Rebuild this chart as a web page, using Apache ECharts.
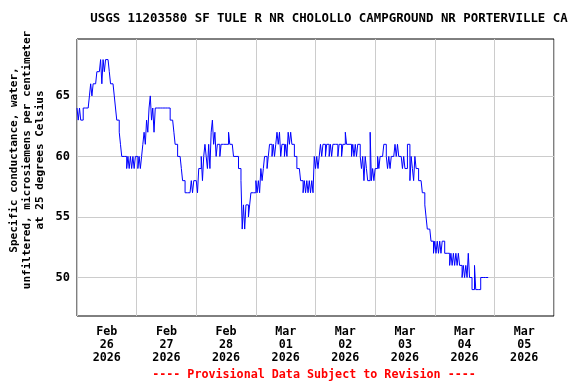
<!DOCTYPE html>
<html>
<head>
<meta charset="utf-8">
<script src="https://cdn.jsdelivr.net/npm/echarts@6/dist/echarts.min.js"></script>
<style>html,body{margin:0;padding:0;background:#fff}#c{width:576px;height:384px}</style>
</head>
<body>
<div id="c"></div>
<script>
// Day labels (each centred on its day; gridlines at midnights)
var dayLabels = ['Feb\n26\n2026','Feb\n27\n2026','Feb\n28\n2026','Mar\n01\n2026','Mar\n02\n2026','Mar\n03\n2026','Mar\n04\n2026','Mar\n05\n2026'];
var yTicks = [50, 55, 60, 65];

// Half-hourly specific conductance values (uS/cm), 00:00..23:30 of each day
var feb26 = [64,63,64,63,63,64,64,64,64,64,65,66,65,66,66,66,67,67,67,68,66,68,67,68,68,68,67,66,66,66,65,64,63,63,62,61,60,60,60,60,59,60,59,60,59,60,59,60];
var feb27 = [60,59,60,59,60,61,62,61,63,62,64,65,63,64,62,64,64,64,64,64,64,64,64,64,64,64,64,63,63,63,62,61,61,60,60,60,59,58,58,57,57,57,57,57,58,57,58,58];
var feb28 = [58,57,59,59,60,58,60,61,60,59,61,59,62,63,61,62,60,61,61,60,61,61,61,61,61,61,62,61,61,61,60,60,60,60,59,59,58,54,56,54,56,56,55,56,57,57,57,57];
var mar01 = [58,57,58,57,59,58,59,60,60,59,60,61,61,60,61,60,61,62,61,62,60,61,61,60,61,60,62,61,62,61,61,60,60,59,59,59,58,58,57,58,57,58,57,58,57,58,57,60];
var mar02 = [59,60,59,60,61,60,61,61,60,61,61,60,61,60,61,61,61,61,60,61,61,60,61,61,62,61,61,61,61,60,61,60,61,60,61,61,60,59,60,58,60,59,58,58,62,58,59,58];
var mar03 = [59,59,60,59,60,60,60,61,61,60,59,60,59,60,60,60,61,60,61,60,60,60,59,60,59,59,61,61,58,60,59,58,60,59,59,58,58,58,57,57,56,55,54,54,54,53,53,52];
var mar04 = [53,52,53,52,53,52,53,53,52,52,52,52,51,52,51,52,51,52,51,52,51,51,50,51,50,51,50,52,50,50,49,49,51,49,49,49,49,50,50,50,50,50,50,50];

var days = [feb26, feb27, feb28, mar01, mar02, mar03, mar04];
var seriesData = [];
days.forEach(function (arr, d) {
  arr.forEach(function (v, i) { seriesData.push([d * 24 + i * 0.5, v]); });
});

var FONT = '"DejaVu Sans Mono", "Liberation Mono", monospace';
var chart = echarts.init(document.getElementById('c'), null, {renderer: 'canvas'});
chart.setOption({
  animation: false,
  backgroundColor: '#fff',
  grid: {left: 77, top: 39, width: 477, height: 277, show: true, borderColor: '#000', borderWidth: 1, backgroundColor: 'transparent'},
  xAxis: [{
    type: 'category', data: dayLabels, boundaryGap: true, position: 'bottom',
    axisLine: {show: false}, axisTick: {show: false},
    splitLine: {show: true, lineStyle: {color: '#cccccc', width: 1}},
    axisLabel: {color: '#000', fontFamily: FONT, fontWeight: 'bold', fontSize: 11.7, lineHeight: 13, margin: 9, interval: 0}
  }, {
    type: 'value', min: 0, max: 192, show: false
  }],
  yAxis: {
    type: 'value', min: 46.82, max: 69.7,
    axisLine: {show: false},
    axisTick: {show: false, customValues: yTicks},
    splitLine: {show: true, lineStyle: {color: '#cccccc', width: 1}},
    axisLabel: {customValues: yTicks, color: '#000', fontFamily: FONT, fontWeight: 'bold', fontSize: 12, margin: 7}
  },
  graphic: [
    {type: 'text', x: 329, y: 19, style: {text: 'USGS 11203580 SF TULE R NR CHOLOLLO CAMPGROUND NR PORTERVILLE CA', font: 'bold 12.4px ' + FONT, fill: '#000', textAlign: 'center', textVerticalAlign: 'middle'}},
    {type: 'text', x: 27, y: 160, rotation: Math.PI / 2, style: {text: 'Specific conductance, water,\nunfiltered, microsiemens per centimeter\nat 25 degrees Celsius', font: 'bold 11px ' + FONT, lineHeight: 13, fill: '#000', textAlign: 'center', textVerticalAlign: 'middle'}},
    {type: 'text', x: 314, y: 375, style: {text: '---- Provisional Data Subject to Revision ----', font: 'bold 11.7px ' + FONT, fill: '#ff0000', textAlign: 'center', textVerticalAlign: 'middle'}}
  ],
  series: [{
    type: 'line', xAxisIndex: 1, yAxisIndex: 0, data: seriesData,
    step: 'end', symbol: 'none', showSymbol: false,
    lineStyle: {color: '#0000ff', width: 1}, z: 5
  }]
});
</script>
</body>
</html>
